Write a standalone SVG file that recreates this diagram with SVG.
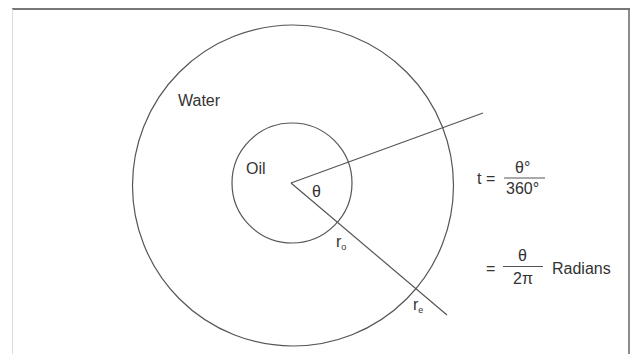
<svg xmlns="http://www.w3.org/2000/svg" width="630" height="354" viewBox="0 0 630 354">
<style>
.ln{fill:none;stroke:#555;stroke-width:1.2}
.t{font-family:"Liberation Sans",Arial,sans-serif;font-size:16px;fill:#333}
.s{font-family:"Liberation Sans",Arial,sans-serif;font-size:9px;fill:#333}
</style>
<rect width="630" height="354" fill="#fff"/>
<line x1="12" y1="9" x2="630" y2="9" stroke="#777" stroke-width="2"/>
<line x1="12.5" y1="9" x2="12.5" y2="354" stroke="#ddd" stroke-width="1"/>
<line x1="629" y1="9" x2="629" y2="354" stroke="#666" stroke-width="1.5"/>
<g id="water">
<circle class="ln" cx="293" cy="185.5" r="160.5"/>
<text class="t" x="178" y="106">Water</text>
</g>
<g id="oil">
<circle class="ln" cx="292" cy="183" r="60"/>
<text class="t" x="246" y="174">Oil</text>
</g>
<g id="connectors">
<line class="ln" x1="291" y1="183" x2="483" y2="113"/>
<line class="ln" x1="291" y1="183" x2="447" y2="315"/>
</g>
<g id="labels">
<text class="t" x="312" y="197">θ</text>
<text class="t" x="336" y="247">r<tspan class="s" dy="3">o</tspan></text>
<text class="t" x="413" y="310">r<tspan class="s" dy="3">e</tspan></text>
</g>
<g id="formula1">
<text class="t" x="477" y="184">t =</text>
<text class="t" x="515" y="173">θ°</text>
<line x1="504" y1="178" x2="545" y2="178" stroke="#555" stroke-width="1"/>
<text class="t" x="506" y="194">360°</text>
</g>
<g id="formula2">
<text class="t" x="486" y="274">=</text>
<text class="t" x="518" y="261">θ</text>
<line x1="503" y1="266.5" x2="543" y2="266.5" stroke="#555" stroke-width="1"/>
<text class="t" x="513" y="284">2π</text>
<text class="t" x="552" y="274">Radians</text>
</g>
</svg>
